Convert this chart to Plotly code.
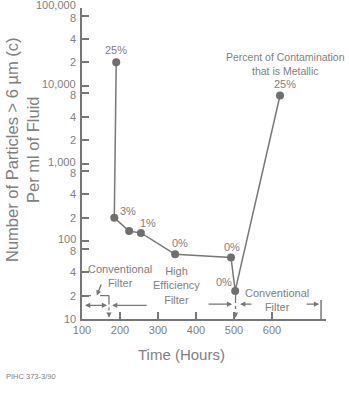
import numpy as np
import plotly.graph_objects as go

# ---- data ----
hours = [190, 185, 224, 255, 345, 492, 503, 621]
particles = [20000, 200, 135, 128, 68, 62, 23, 7500]
pct_labels = ["25%", "3%", "", "1%", "0%", "0%", "0%", "25%"]
x_ticks = [100, 200, 300, 400, 500, 600]
y_tick_vals = [10, 20, 40, 80, 100, 200, 400, 800, 1000, 2000, 4000, 8000,
               10000, 20000, 40000, 80000, 100000]
y_tick_text = ["10", "2", "4", "8", "100", "2", "4", "8", "1,000", "2", "4", "8",
               "10,000", "2", "4", "8", "100,000"]

GREY = "#808080"
LINE = "#777777"
FONT = "Liberation Sans, Arial, sans-serif"

fig = go.Figure()

# main data line
fig.add_trace(go.Scatter(
    x=hours, y=particles, mode="lines+markers",
    line=dict(color=LINE, width=1.5),
    marker=dict(color="#6f6f6f", size=8),
    hoverinfo="skip", showlegend=False))

# dashed guide lines (filter change markers)
def seg(xs, ys, dash, width=1.3):
    fig.add_trace(go.Scatter(x=xs, y=ys, mode="lines",
                             line=dict(color=LINE, width=width, dash=dash),
                             hoverinfo="skip", showlegend=False))

seg([100, 171], [20, 20], "dash")
seg([171, 171], [20, 12.5], "dashdot")
seg([504, 504], [21, 12.5], "dashdot")
seg([729, 729], [17.6, 10], "solid", 1.5)

ann = []
# arrows
def arrow(x, y, ax, ay, both=False):
    ann.append(dict(x=x, y=np.log10(y), ax=ax, ay=np.log10(ay), xref="x", yref="y",
                    axref="x", ayref="y", text="", showarrow=True, arrowhead=2,
                    arrowsize=0.8, arrowwidth=1.3, arrowcolor=LINE, standoff=0,
                    startstandoff=0, startarrowhead=2, startarrowsize=0.8,
                    arrowside="end+start" if both else "end"))

arrow(166, 15, 104, 15, both=True)
arrow(179, 15, 274, 15)
arrow(171, 10.4, 171, 12.5)
arrow(495, 15.5, 429, 15.5)
arrow(516, 15.5, 550, 15.5)
arrow(504, 10.4, 504, 12.5)
arrow(724, 15.5, 687, 15.5)
arrow(139, 20, 152, 29)

# percent labels near points
offsets = [(0, 12), (14, 7), (0, 0), (7, 10), (5, 11), (1, 10), (-11, 9), (5, 11)]
for h, p, lab, (dx, dy) in zip(hours, particles, pct_labels, offsets):
    if lab:
        ann.append(dict(x=h, y=np.log10(p), xref="x", yref="y", text=lab,
                        showarrow=False, xshift=dx, yshift=dy,
                        font=dict(size=11, color=GREY, family=FONT)))

ann.append(dict(x=hours[-1], y=np.log10(particles[-1]), xref="x", yref="y",
                text="Percent of Contamination<br>that is Metallic",
                showarrow=False, xshift=5, yshift=31,
                font=dict(size=10.5, color=GREY, family=FONT)))

# region labels
def txt(x, y, t):
    ann.append(dict(x=x, y=np.log10(y), xref="x", yref="y", text=t, showarrow=False,
                    font=dict(size=11, color=GREY, family=FONT)))

txt(199, 36, "Conventional<br>Filter")
txt(349, 27.3, "High<br>Efficiency<br>Filter")
txt(613, 17.4, "Conventional<br>Filter")

# y tick labels
for v, t in zip(y_tick_vals, y_tick_text):
    sh = 0
    if t == "8":
        sh = -2
    elif "," in t or t in ("100",):
        sh = 2
    if t == "100,000":
        sh = 3
    ann.append(dict(x=0, y=np.log10(v), xref="paper", yref="y", text=t,
                    showarrow=False, xanchor="right", xshift=-4, yshift=sh,
                    font=dict(size=11, color=GREY, family=FONT)))

# axis titles and footer
ann.append(dict(x=-0.244, y=0.545, xref="paper", yref="paper",
                text="Number of Particles > 6 \u00b5m (c)<br>Per ml of Fluid",
                textangle=-90, showarrow=False, xanchor="center", yanchor="middle",
                font=dict(size=16.5, color=GREY, family=FONT)))
ann.append(dict(x=(181 - 82) / 244, y=(319 - 365) / 311, xref="paper", yref="paper",
                text="Time (Hours)", showarrow=False,
                font=dict(size=15, color=GREY, family=FONT)))
ann.append(dict(x=(4 - 82) / 244, y=(319 - 383) / 311, xref="paper", yref="paper",
                text="PIHC 373-3/90", showarrow=False, xanchor="left",
                font=dict(size=7.5, color=GREY, family=FONT)))

fig.update_layout(
    width=349, height=400,
    margin=dict(l=82, r=23, t=8, b=81),
    paper_bgcolor="white", plot_bgcolor="white",
    annotations=ann,
    xaxis=dict(range=[100, 742], tickvals=x_ticks, ticks="inside", ticklen=7,
               tickwidth=1.5, tickcolor=LINE, showline=True, linecolor=LINE,
               linewidth=2, showgrid=False, zeroline=False,
               tickfont=dict(size=11, color=GREY, family=FONT)),
    yaxis=dict(type="log", range=[1, 5], tickvals=y_tick_vals, ticks="inside",
               ticklen=7, tickwidth=1.5, tickcolor=LINE, showline=True,
               linecolor=LINE, linewidth=2, showgrid=False, zeroline=False,
               showticklabels=False),
)

fig.write_html("out.html")
